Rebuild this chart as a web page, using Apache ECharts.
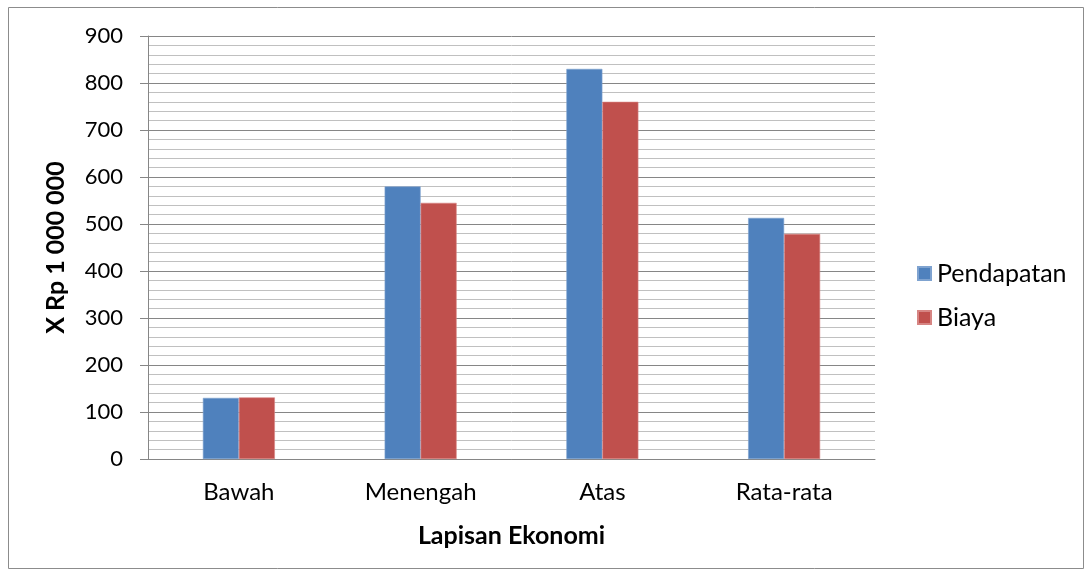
<!DOCTYPE html>
<html>
<head>
<meta charset="utf-8">
<script src="https://cdn.jsdelivr.net/npm/echarts@6/dist/echarts.min.js"></script>
<style>
  html, body { margin: 0; padding: 0; background: #fff; }
  #chart { width: 1092px; height: 577px; }
</style>
</head>
<body>
<div id="chart"></div>
<script>
// Income vs. cost per economic layer (in millions of rupiah)
const categories = ['Bawah', 'Menengah', 'Atas', 'Rata-rata'];
const pendapatan = [130, 580, 830, 513];
const biaya = [131, 545, 760, 479];
const seriesNames = ['Pendapatan', 'Biaya'];
const yAxisTitle = 'X Rp 1 000 000';
const xAxisTitle = 'Lapisan Ekonomi';

const FONT = 'Lato, "Open Sans", sans-serif';
const chart = echarts.init(document.getElementById('chart'), null, { renderer: 'canvas' });

chart.setOption({
  animation: false,
  backgroundColor: '#fff',
  textStyle: { fontFamily: FONT },
  graphic: [{
    type: 'rect',
    shape: { x: 8.5, y: 7.5, width: 1075, height: 561 },
    style: { fill: 'none', stroke: '#8c8c8c', lineWidth: 1 },
    silent: true
  }],
  grid: { left: 148, top: 36, right: 217, bottom: 118, containLabel: false },
  legend: {
    orient: 'vertical',
    left: 912,
    top: 256,
    itemWidth: 13,
    itemHeight: 13,
    itemGap: 19,
    icon: 'rect',
    textStyle: { fontFamily: FONT, fontSize: 25, color: '#000', padding: [0, 0, 0, 1] },
    data: seriesNames
  },
  xAxis: {
    type: 'category',
    data: categories,
    name: xAxisTitle,
    nameLocation: 'middle',
    nameGap: 64,
    nameTextStyle: { fontFamily: FONT, fontSize: 25, fontWeight: 'bold', color: '#000' },
    axisLine: { lineStyle: { color: '#868686', width: 1 } },
    axisTick: { show: false },
    axisLabel: { fontFamily: FONT, fontSize: 24, color: '#000', margin: 21 }
  },
  yAxis: {
    type: 'value',
    min: 0,
    max: 900,
    interval: 100,
    name: yAxisTitle,
    nameLocation: 'middle',
    nameGap: 80,
    nameRotate: 90,
    nameTextStyle: { fontFamily: FONT, fontSize: 25, fontWeight: 'bold', color: '#000' },
    axisLine: { show: true, lineStyle: { color: '#868686', width: 1 } },
    axisTick: { show: true, length: 8, lineStyle: { color: '#868686' } },
    axisLabel: { fontFamily: FONT, fontSize: 22, color: '#000', margin: 25 },
    splitLine: { show: true, lineStyle: { color: '#868686', width: 1 } },
    minorTick: { show: false, splitNumber: 5 },
    minorSplitLine: { show: true, lineStyle: { color: '#c0c0c0', width: 1 } }
  },
  series: [
    {
      name: seriesNames[0],
      type: 'bar',
      data: pendapatan,
      barWidth: 36,
      barGap: '0%',
      itemStyle: { color: '#4F81BD', borderColor: '#7fa3d0', borderWidth: 0.6 }
    },
    {
      name: seriesNames[1],
      type: 'bar',
      data: biaya,
      barWidth: 36,
      barGap: '0%',
      itemStyle: { color: '#C0504D', borderColor: '#d68583', borderWidth: 0.6 }
    }
  ]
});
</script>
</body>
</html>
